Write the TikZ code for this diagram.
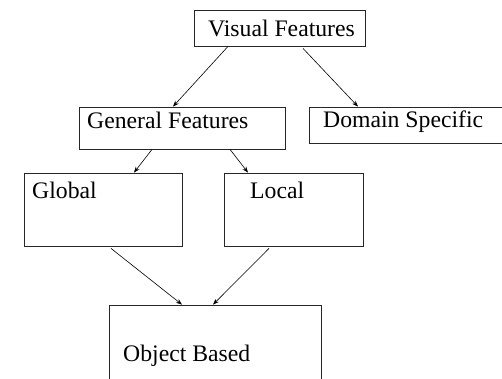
\documentclass[tikz,border=0pt]{standalone}
\usepackage{fontspec}
\setmainfont{Liberation Serif}
\usetikzlibrary{arrows.meta}
\tikzset{
  box/.style={draw=black!85, line width=0.8pt, rectangle, inner sep=0pt},
  lbl/.style={anchor=base west, inner sep=0pt, font=\fontsize{23.7}{26}\selectfont},
  arr/.style={draw=black, line width=0.6pt, -{Stealth[length=6pt,width=4.5pt]}}
}
\begin{document}
\begin{tikzpicture}[x=1pt,y=-1pt]
\useasboundingbox (0,0) rectangle (502,378);
\clip (0,0) rectangle (502,378);
% boxes
\node[box, minimum width=171pt, minimum height=36pt] (vf) at (279.5,28) {};
\node[box, minimum width=206pt, minimum height=42pt] (gf) at (182,128) {};
\node[box, minimum width=201pt, minimum height=36pt] (ds) at (409.5,125) {};
\node[box, minimum width=158pt, minimum height=73pt] (gl) at (103,209.5) {};
\node[box, minimum width=139pt, minimum height=73pt] (lo) at (293.5,209.5) {};
\node[box, minimum width=212pt, minimum height=85pt] (ob) at (215,347.5) {};
% labels
\node[lbl] (tvf) at (208,36) {Visual Features};
\node[lbl] (tgf) at (87,128) {General Features};
\node[lbl] (tds) at (323,127) {Domain Specific};
\node[lbl] (tgl) at (32,198) {Global};
\node[lbl] (tlo) at (250,198) {Local};
\node[lbl] (tob) at (123,361) {Object Based};
% connectors
\draw[arr] (vf.south -| 228,0) -- (gf.north -| 173,0);
\draw[arr] ([yshift=-2pt]vf.south -| 303,0) -- (ds.north -| 358,0);
\draw[arr] (gf.south -| 152,0) -- (gl.north -| 134,0);
\draw[arr] (gf.south -| 230,0) -- (lo.north -| 248,0);
\draw[arr] ([yshift=-2pt]gl.south -| 111,0) -- (ob.north -| 182,0);
\draw[arr] ([yshift=-2pt]lo.south -| 269,0) -- (ob.north -| 213,0);
\end{tikzpicture}
\end{document}
